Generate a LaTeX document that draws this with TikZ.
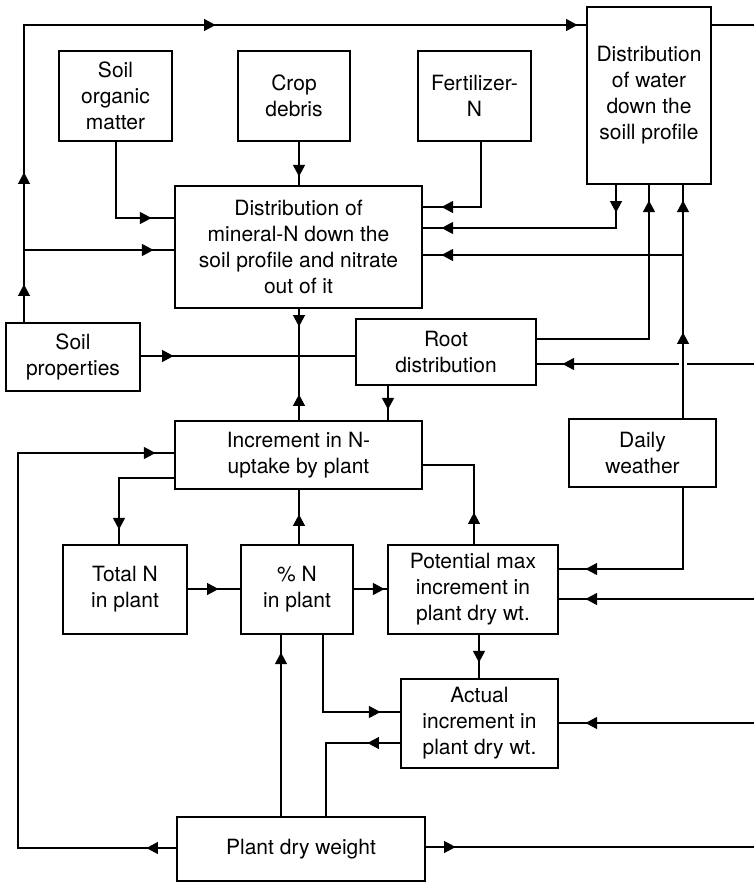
\documentclass[tikz,border=0pt]{standalone}
\usepackage{fontspec}
\setmainfont{TeX Gyre Heros}
\usetikzlibrary{arrows.meta,decorations.markings,calc}
\begin{document}
\begin{tikzpicture}[x=1pt,y=-1pt,
  box/.style={draw,line width=1.1pt,align=center,inner sep=0pt,font=\fontsize{21}{26}\selectfont},
  ln/.style={line width=1.1pt},
  ar/.style={postaction={decorate,decoration={markings,mark=at position #1 with {\arrow{Triangle[length=11.5pt,width=12pt]}}}}}
]
\useasboundingbox (0,0) rectangle (754,883);
% boxes
\node[box,minimum width=113pt,minimum height=90pt] (som) at (115.5,96) {Soil\\organic\\matter};
\node[box,minimum width=112pt,minimum height=90pt] (crop) at (294,96) {Crop\\debris};
\node[box,minimum width=113pt,minimum height=90pt] (fert) at (474.5,96) {Fertilizer-\\N};
\node[box,minimum width=124pt,minimum height=177pt] (water) at (649,95.5) {Distribution\\of water\\down the\\soill profile};
\node[box,minimum width=247pt,minimum height=122pt] (mineral) at (298.5,247) {Distribution of\\mineral-N down the\\soil profile and nitrate\\out of it};
\node[box,minimum width=134pt,minimum height=68pt] (soilp) at (73,357) {Soil\\properties};
\node[box,minimum width=180pt,minimum height=66pt] (root) at (446,352) {Root\\distribution};
\node[box,minimum width=247pt,minimum height=68pt] (incr) at (298.5,455) {Increment in N-\\uptake by plant};
\node[box,minimum width=147pt,minimum height=68pt] (weather) at (642.5,453) {Daily\\weather};
\node[box,minimum width=124pt,minimum height=89pt] (totaln) at (125,589.5) {Total N\\in plant};
\node[box,minimum width=112pt,minimum height=89pt] (pctn) at (297,589.5) {\% N\\in plant};
\node[box,minimum width=170pt,minimum height=89pt] (potential) at (473,589.5) {Potential max\\increment in\\plant dry wt.};
\node[box,minimum width=157pt,minimum height=89pt] (actual) at (479.5,723.5) {Actual\\increment in\\plant dry wt.};
\node[box,minimum width=248pt,minimum height=64pt] (pdw) at (301,849) {Plant dry weight};
% free ends and junctions
\coordinate (eTop) at (754,25);
\coordinate (eRoot) at (754,364);
\coordinate (gapR) at (687,364);
\coordinate (gapL) at (679,364);
\coordinate (ePot) at (754,599);
\coordinate (eAct) at (754,723);
\coordinate (ePdw) at (754,847);
\coordinate (jSoil) at (24,250);
\coordinate (jWea) at (683,255);
% connectors
\draw[ln,ar=38pt,ar=150pt,ar=489pt,ar=851pt] (soilp.north -| 24,0) |- (water.west |- eTop);
\draw[ln] (water.east |- eTop) -- (eTop);
\draw[ln,ar=-21pt] (jSoil) -- (mineral.west |- jSoil);
\draw[ln,ar=-23pt] (som.south -| 116,0) |- (mineral.west |- 0,218);
\draw[ln,ar=-9pt] (crop.south -| 299,0) -- (mineral.north -| 299,0);
\draw[ln,ar=-19pt] (fert.south -| 481,0) |- (mineral.east |- 0,207);
\draw[ln,ar=28pt,ar=-19pt] (water.south -| 616,0) |- (mineral.east |- 0,228);
\draw[ln,ar=-16pt] (root.east |- 0,339) -| (water.south -| 649,0);
\draw[ln,ar=86pt,ar=-16pt] (weather.north -| 683,0) -- (water.south -| 683,0);
\draw[ln,ar=-19pt] (jWea) -- (mineral.east |- jWea);
\draw[ln,ar=18pt] (mineral.south -| 299,0) -- (incr.north -| 299,0);
\draw[ln,ar=26pt] (incr.north -| 299,0) -- (mineral.south -| 299,0);
\draw[ln,ar=33pt] (soilp.east |- 0,356) -- (root.west |- 0,356);
\draw[ln,ar=-11pt] (root.south -| 388,0) -- (incr.north -| 388,0);
\draw[ln] (eRoot) -- (gapR);
\draw[ln,ar=-26pt] (gapL) -- (root.east |- gapL);
\draw[ln,ar=30pt,ar=-19pt] (pdw.west |- 0,848) -| (18,453) -- (incr.west |- 0,453);
\draw[ln,ar=-15pt] (incr.west |- 0,478) -| (totaln.north -| 119,0);
\draw[ln,ar=30pt] (pctn.north -| 299,0) -- (incr.south -| 299,0);
\draw[ln,ar=32pt] (potential.north -| 474,0) |- (incr.east |- 0,465);
\draw[ln,ar=31pt] (totaln.east |- 0,589) -- (pctn.west |- 0,589);
\draw[ln,ar=-3pt] (pctn.east |- 0,589) -- (potential.west |- 0,589);
\draw[ln,ar=-27pt] (weather.south -| 683,0) |- (potential.east |- 0,569);
\draw[ln,ar=-27pt] (ePot) -- (potential.east |- ePot);
\draw[ln,ar=-16pt] (potential.south -| 479,0) -- (actual.north -| 479,0);
\draw[ln,ar=-27pt] (eAct) -- (actual.east |- eAct);
\draw[ln,ar=-20pt] (pctn.south -| 323,0) |- (actual.west |- 0,712);
\draw[ln,ar=33pt] (actual.west |- 0,743) -| (pdw.north -| 326,0);
\draw[ln,ar=-18pt] (pdw.north -| 281,0) -- (pctn.south -| 281,0);
\draw[ln,ar=30pt] (pdw.east |- ePdw) -- (ePdw);
\end{tikzpicture}
\end{document}
